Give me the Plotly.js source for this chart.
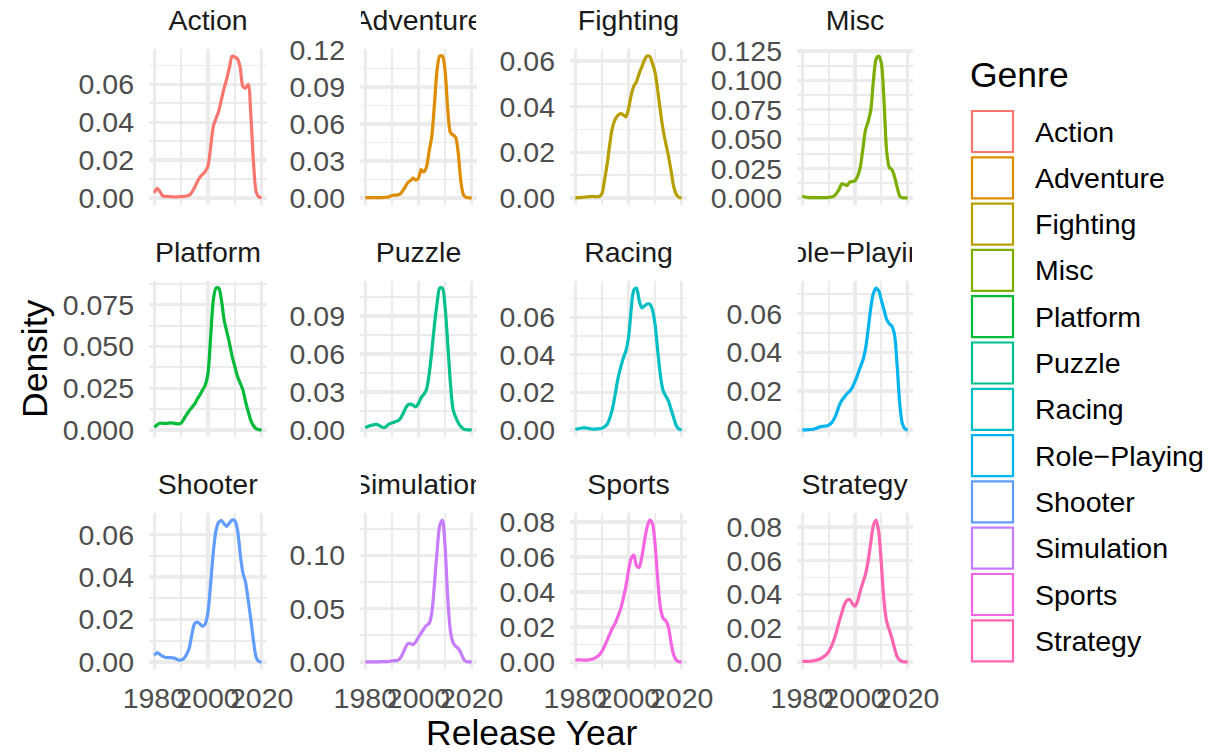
<!DOCTYPE html>
<html><head><meta charset="utf-8">
<script src="https://cdn.plot.ly/plotly-3.0.1.min.js"></script>
<style>html,body{margin:0;padding:0;background:#fff}</style>
</head><body><div id="chart" style="width:1212px;height:753px"></div>
<script>
const genres = ["Action","Adventure","Fighting","Misc","Platform","Puzzle","Racing","Role\u2212Playing","Shooter","Simulation","Sports","Strategy"];
const colors = ["#F8766D","#DE8C00","#B79F00","#7CAE00","#00BA38","#00C08B","#00BFC4","#00B4F0","#619CFF","#C77CFF","#F564E3","#FF64B0"];
const years = [1980,1981,1982,1983,1984,1985,1986,1987,1988,1989,1990,1991,1992,1993,1994,1995,1996,1997,1998,1999,2000,2001,2002,2003,2004,2005,2006,2007,2008,2009,2010,2011,2012,2013,2014,2015,2016,2017,2018,2019,2020];

const action = [0.0026,0.0050,0.0035,0.0012,0.0008,0.0008,0.0006,0.0005,0.0005,0.0006,0.0007,0.0008,0.001,0.0015,0.003,0.0055,0.0085,0.011,0.0125,0.014,0.017,0.027,0.038,0.042,0.046,0.052,0.058,0.063,0.069,0.075,0.0745,0.0735,0.069,0.059,0.058,0.060,0.043,0.018,0.003,0.0005,0.0001];
const adventure = [0.0002,0.0002,0.0002,0.0003,0.0003,0.0002,0.0003,0.0004,0.0005,0.001,0.002,0.0022,0.0025,0.003,0.0055,0.009,0.0125,0.014,0.016,0.0145,0.016,0.023,0.021,0.025,0.038,0.050,0.076,0.104,0.115,0.115,0.103,0.072,0.053,0.051,0.049,0.035,0.012,0.002,0.0003,0.0001,0];
const fighting = [0,0.0001,0.0002,0.0003,0.0004,0.0005,0.0006,0.0006,0.0005,0.0006,0.0018,0.008,0.015,0.024,0.031,0.0345,0.0362,0.037,0.0365,0.0355,0.039,0.045,0.049,0.051,0.0545,0.0575,0.0605,0.0622,0.062,0.059,0.055,0.047,0.038,0.030,0.024,0.0185,0.012,0.005,0.0015,0.0002,0];
const misc = [0.0014,0.0008,0.0004,0.0003,0.0002,0.0002,0.0002,0.0002,0.0003,0.0003,0.0004,0.0008,0.0015,0.004,0.0075,0.012,0.0115,0.0105,0.0135,0.014,0.0145,0.0185,0.026,0.042,0.058,0.065,0.075,0.100,0.118,0.1207,0.1145,0.083,0.040,0.026,0.024,0.018,0.009,0.0015,0.0002,0,0];
const platform = [0.0016,0.003,0.004,0.004,0.0039,0.004,0.0042,0.0041,0.0038,0.0036,0.0042,0.0065,0.0092,0.0115,0.0135,0.0155,0.0185,0.021,0.024,0.027,0.034,0.056,0.078,0.085,0.085,0.078,0.066,0.059,0.052,0.044,0.038,0.032,0.028,0.024,0.017,0.011,0.0056,0.0025,0.0006,0.0001,0];
const puzzle = [0.0016,0.0028,0.0035,0.004,0.0043,0.0038,0.0025,0.0017,0.003,0.0048,0.0055,0.0063,0.007,0.0085,0.012,0.0165,0.0198,0.0204,0.0195,0.0182,0.021,0.0255,0.028,0.032,0.044,0.062,0.083,0.100,0.112,0.112,0.097,0.068,0.037,0.016,0.010,0.0055,0.0025,0.0006,0.0001,0,0];
const racing = [0.0002,0.0006,0.0009,0.0011,0.0011,0.0008,0.0005,0.0004,0.0005,0.0006,0.0009,0.0017,0.003,0.0065,0.0115,0.019,0.027,0.033,0.038,0.042,0.049,0.064,0.0745,0.0755,0.069,0.065,0.066,0.067,0.067,0.064,0.056,0.042,0.029,0.021,0.018,0.0155,0.011,0.0065,0.0022,0.0004,0];
const rolePlaying = [0,0,0.0001,0.0002,0.0003,0.0006,0.0012,0.0017,0.0019,0.002,0.0025,0.0035,0.0055,0.0085,0.0125,0.0152,0.017,0.0188,0.020,0.022,0.025,0.0285,0.0325,0.036,0.042,0.052,0.063,0.0705,0.0732,0.0718,0.067,0.062,0.057,0.0548,0.0535,0.049,0.033,0.013,0.003,0.0005,0];
const shooter = [0.0031,0.0044,0.0036,0.0027,0.0022,0.002,0.002,0.0019,0.0015,0.0009,0.0009,0.0016,0.0035,0.0065,0.013,0.018,0.0188,0.0178,0.0168,0.018,0.0235,0.037,0.052,0.062,0.0658,0.0666,0.065,0.0638,0.0655,0.0668,0.0665,0.0622,0.051,0.042,0.0375,0.029,0.0197,0.0095,0.002,0.0002,0];
const simulation = [0,0,0,0.0001,0.0001,0.0001,0.0002,0.0002,0.0003,0.0005,0.0009,0.0012,0.0014,0.003,0.0073,0.013,0.0172,0.0172,0.0162,0.019,0.0232,0.027,0.031,0.0343,0.036,0.046,0.073,0.104,0.128,0.133,0.108,0.060,0.029,0.018,0.0145,0.0125,0.008,0.0025,0.0003,0,0];
const sports = [0.001,0.0012,0.0012,0.001,0.001,0.0012,0.0015,0.002,0.0028,0.004,0.006,0.009,0.0125,0.016,0.0195,0.022,0.026,0.030,0.036,0.043,0.052,0.059,0.061,0.055,0.054,0.060,0.069,0.077,0.081,0.079,0.067,0.047,0.031,0.025,0.0235,0.020,0.011,0.004,0.001,0.0001,0];
const strategy = [0.0003,0.0003,0.0003,0.0004,0.0006,0.0009,0.0013,0.002,0.003,0.0042,0.006,0.009,0.013,0.018,0.024,0.029,0.034,0.0365,0.037,0.0345,0.033,0.036,0.042,0.047,0.052,0.060,0.071,0.081,0.084,0.077,0.058,0.036,0.024,0.019,0.014,0.008,0.003,0.001,0.0002,0,0];

const densities = [action,adventure,fighting,misc,platform,puzzle,racing,rolePlaying,shooter,simulation,sports,strategy];
const yTickStep = [0.02,0.03,0.02,0.025,0.025,0.03,0.02,0.02,0.02,0.05,0.02,0.02];
const yTickFormat = [".2f",".2f",".2f",".3f",".3f",".2f",".2f",".2f",".2f",".2f",".2f",".2f"];
const xTickStep = 20;

// layout geometry (pixels)
const W = 1212, H = 753;
const colLeft = [149, 360, 570, 797], colRight = [267, 477, 687, 913];
const rowTop = [49, 281, 513], rowBottom = [205, 437, 669];
const FONT = "Liberation Sans, Arial, Helvetica, sans-serif";
const GRID = "#EBEBEB";

const px = v => v / W, py = v => 1 - v / H;

const traces = [];
const layout = {
  width: W, height: H,
  margin: {l: 0, r: 0, t: 0, b: 0},
  paper_bgcolor: "#fff", plot_bgcolor: "#fff",
  showlegend: false,
  font: {family: FONT},
  annotations: [], shapes: []
};

genres.forEach((g, i) => {
  const r = Math.floor(i / 4), c = i % 4;
  const n = i + 1;
  const sfx = n === 1 ? "" : String(n);
  const d = densities[i];
  const mx = Math.max(...d);
  traces.push({
    x: years, y: d, type: "scatter", mode: "lines",
    xaxis: "x" + sfx, yaxis: "y" + sfx,
    line: {color: colors[i], width: 3.2, shape: "spline", smoothing: 0.8},
    hoverinfo: "skip"
  });
  layout["xaxis" + sfx] = {
    domain: [px(colLeft[c]), px(colRight[c])],
    anchor: "y" + sfx,
    range: [1978, 2022], tick0: 1980, dtick: xTickStep,
    showgrid: true, gridcolor: GRID, gridwidth: 3.4,
    minor: {dtick: xTickStep / 2, showgrid: true, gridcolor: GRID, gridwidth: 1.8},
    zeroline: false, showline: false, ticks: "", tickangle: 0,
    showticklabels: r === 2, ticklabelstandoff: 9,
    tickfont: {family: FONT, size: 28.5, color: "#4D4D4D"}
  };
  layout["yaxis" + sfx] = {
    domain: [py(rowBottom[r]), py(rowTop[r])],
    anchor: "x" + sfx,
    range: [-0.05 * mx, 1.05 * mx], tick0: 0, dtick: yTickStep[i],
    tickformat: yTickFormat[i],
    showgrid: true, gridcolor: GRID, gridwidth: 3.4,
    minor: {dtick: yTickStep[i] / 2, showgrid: true, gridcolor: GRID, gridwidth: 1.8},
    zeroline: false, showline: false, ticks: "",
    ticklabelstandoff: 14,
    tickfont: {family: FONT, size: 28.5, color: "#4D4D4D"}
  };
  // facet strip label, clipped to panel width
  layout.annotations.push({
    xref: "paper", yref: "paper",
    x: px((colLeft[c] + colRight[c]) / 2), y: py(rowTop[r] - 29),
    xanchor: "center", yanchor: "middle",
    width: colRight[c] - colLeft[c] - 2, showarrow: false,
    text: g, font: {family: FONT, size: 28.5, color: "#1A1A1A"}
  });
});

// axis titles
layout.annotations.push({
  xref: "paper", yref: "paper", x: px((colLeft[0] + colRight[3]) / 2), y: py(733),
  xanchor: "center", yanchor: "middle", showarrow: false,
  text: "Release Year", font: {family: FONT, size: 35.5, color: "#000"}
});
layout.annotations.push({
  xref: "paper", yref: "paper", x: px(35), y: py((rowTop[0] + rowBottom[2]) / 2),
  xanchor: "center", yanchor: "middle", showarrow: false, textangle: -90,
  text: "Density", font: {family: FONT, size: 35.5, color: "#000"}
});

// legend
const legLeft = 971, legTop = 110, keySize = 43, keyStep = 46.3;
layout.annotations.push({
  xref: "paper", yref: "paper", x: px(legLeft - 3), y: py(75),
  xanchor: "left", yanchor: "middle", showarrow: false,
  text: "Genre", font: {family: FONT, size: 35.5, color: "#000"}
});
genres.forEach((g, i) => {
  const top = legTop + i * keyStep;
  layout.shapes.push({
    type: "rect", xref: "paper", yref: "paper",
    x0: px(legLeft + 1), x1: px(legLeft + keySize - 1),
    y0: py(top + keySize - 1), y1: py(top + 1),
    line: {color: colors[i], width: 2.2}, fillcolor: "rgba(255,255,255,0)"
  });
  layout.annotations.push({
    xref: "paper", yref: "paper", x: px(1033), y: py(top + keySize / 2),
    xanchor: "left", yanchor: "middle", showarrow: false,
    text: g, font: {family: FONT, size: 28.5, color: "#000"}
  });
});

Plotly.newPlot("chart", traces, layout, {staticPlot: true, displayModeBar: false});
</script></body></html>
